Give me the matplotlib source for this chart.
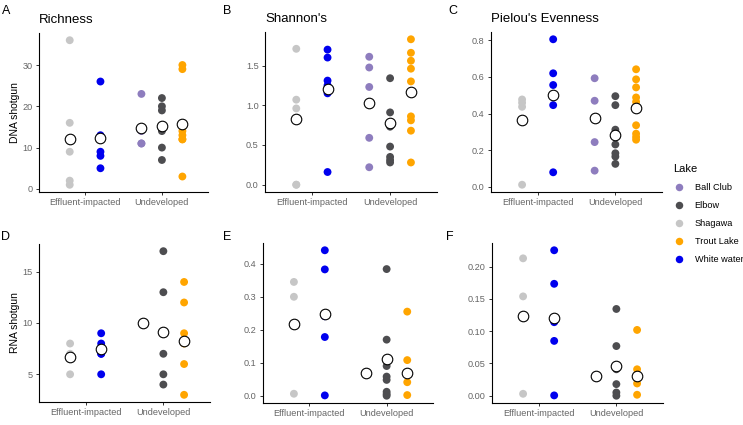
import matplotlib
matplotlib.use("Agg")
import matplotlib.pyplot as plt
from matplotlib.lines import Line2D
from matplotlib.ticker import FormatStrFormatter
import numpy as np

plt.rcParams['font.family'] = ['Liberation Sans', 'DejaVu Sans']

# ---------------- data ----------------
categories = ["Effluent-impacted", "Undeveloped"]
lakes = ["Ball Club", "Elbow", "Shagawa", "Trout Lake", "White water"]
lake_site = {"Ball Club": "Undeveloped", "Elbow": "Undeveloped", "Shagawa": "Effluent-impacted",
             "Trout Lake": "Undeveloped", "White water": "Effluent-impacted"}
lake_colors = {"Ball Club": "#8E7DBE", "Elbow": "#4D4D50", "Shagawa": "#C6C6C6",
               "Trout Lake": "#FFA500", "White water": "#0000EE"}

# DNA shotgun
richness_dna = {"Shagawa": [36, 16, 9, 2, 1],
                "White water": [26, 13, 12, 9, 8, 5],
                "Ball Club": [23, 14, 11, 11],
                "Elbow": [22, 20, 19, 14, 10, 7],
                "Trout Lake": [30, 29, 14, 13, 12, 12, 3]}
richness_dna_mean = {"Shagawa": 12.0, "White water": 12.3, "Ball Club": 14.8, "Elbow": 15.3, "Trout Lake": 15.7}

shannon_dna = {"Shagawa": [1.71, 1.07, 0.96, 0.0, 0.0],
               "White water": [1.70, 1.60, 1.31, 1.25, 1.15, 0.16],
               "Ball Club": [1.61, 1.475, 1.23, 0.59, 0.22],
               "Elbow": [1.34, 0.91, 0.73, 0.48, 0.35, 0.31, 0.28],
               "Trout Lake": [1.83, 1.66, 1.56, 1.46, 1.30, 0.86, 0.81, 0.68, 0.28]}
shannon_dna_mean = {"Shagawa": 0.832, "White water": 1.20, "Ball Club": 1.03, "Elbow": 0.777, "Trout Lake": 1.17}

pielou_dna = {"Shagawa": [0.477, 0.459, 0.437, 0.011],
              "White water": [0.806, 0.620, 0.556, 0.50, 0.446, 0.079],
              "Ball Club": [0.593, 0.470, 0.244, 0.088],
              "Elbow": [0.495, 0.446, 0.312, 0.29, 0.231, 0.183, 0.165, 0.125],
              "Trout Lake": [0.642, 0.587, 0.543, 0.488, 0.464, 0.43, 0.336, 0.29, 0.272, 0.257]}
pielou_dna_mean = {"Shagawa": 0.367, "White water": 0.503, "Ball Club": 0.374, "Elbow": 0.281, "Trout Lake": 0.433}

# RNA shotgun
richness_rna = {"Shagawa": [8, 7, 5],
                "White water": [9, 8, 7, 7, 5],
                "Ball Club": [10],
                "Elbow": [17, 13, 7, 5, 4],
                "Trout Lake": [14, 12, 9, 8, 6, 3]}
richness_rna_mean = {"Shagawa": 6.7, "White water": 7.45, "Ball Club": 10.0, "Elbow": 9.13, "Trout Lake": 8.23}

shannon_rna = {"Shagawa": [0.345, 0.300, 0.006],
               "White water": [0.441, 0.383, 0.241, 0.178, 0.001],
               "Ball Club": [0.070],
               "Elbow": [0.384, 0.170, 0.090, 0.058, 0.048, 0.012, 0.005, 0.0],
               "Trout Lake": [0.255, 0.108, 0.041, 0.002]}
shannon_rna_mean = {"Shagawa": 0.217, "White water": 0.249, "Ball Club": 0.070, "Elbow": 0.110, "Trout Lake": 0.070}

pielou_rna = {"Shagawa": [0.213, 0.154, 0.003],
              "White water": [0.2255, 0.1735, 0.114, 0.085, 0.0005],
              "Ball Club": [0.0306],
              "Elbow": [0.1345, 0.077, 0.041, 0.018, 0.005, 0.0],
              "Trout Lake": [0.102, 0.041, 0.019, 0.0015]}
pielou_rna_mean = {"Shagawa": 0.123, "White water": 0.120, "Ball Club": 0.0306, "Elbow": 0.046, "Trout Lake": 0.030}

panels = [
    ("A", "Richness", "DNA shotgun", richness_dna, richness_dna_mean, [0, 10, 20, 30], "%d"),
    ("B", "Shannon's", None, shannon_dna, shannon_dna_mean, [0, 0.5, 1.0, 1.5], "%.1f"),
    ("C", "Pielou's Evenness", None, pielou_dna, pielou_dna_mean, [0, 0.2, 0.4, 0.6, 0.8], "%.1f"),
    ("D", None, "RNA shotgun", richness_rna, richness_rna_mean, [5, 10, 15], "%d"),
    ("E", None, None, shannon_rna, shannon_rna_mean, [0, 0.1, 0.2, 0.3, 0.4], "%.1f"),
    ("F", None, None, pielou_rna, pielou_rna_mean, [0, 0.05, 0.10, 0.15, 0.20], "%.2f"),
]

# ---------------- layout ----------------
W, H = 743, 425
boxes = [(39, 208, 33, 192), (265, 437, 32, 192), (491, 662, 32, 192),
         (39, 210, 244, 402), (263, 433, 243, 403), (492, 663, 243, 403)]
letter_pos = [(2, 11), (223, 11), (448, 11), (1, 237), (223, 237), (446, 237)]

fig = plt.figure(figsize=(W / 100, H / 100), dpi=100)

dodge = 0.8
for (letter, title, ylabel, pts, means, yticks, fmt), (l, r, t, b), (lx, ly) in zip(panels, boxes, letter_pos):
    ax = fig.add_axes([l / W, 1 - b / H, (r - l) / W, (b - t) / H])
    allv = []
    for ci, cat in enumerate(categories):
        group = [lk for lk in lakes if lake_site[lk] == cat]
        n = len(group)
        for gi, lk in enumerate(group):
            xpos = ci + 1 - dodge / 2 + dodge / n * (gi + 0.5)
            vals = np.asarray(pts[lk], dtype=float)
            ax.scatter(np.full(len(vals), xpos), vals, s=32, color=lake_colors[lk],
                       edgecolors='none', zorder=2)
            ax.scatter([xpos], [means[lk]], s=58, facecolor='white', edgecolor='black',
                       linewidths=0.8, zorder=3)
            allv.extend(vals.tolist())
            allv.append(means[lk])
    lo, hi = min(allv), max(allv)
    pad = (hi - lo) * 0.05
    ax.set_ylim(lo - pad, hi + pad)
    ax.set_xlim(0.4, 2.6)
    ax.set_xticks([1, 2])
    ax.set_xticklabels(categories)
    ax.set_yticks(yticks)
    ax.yaxis.set_major_formatter(FormatStrFormatter(fmt))
    for s in ['top', 'right']:
        ax.spines[s].set_visible(False)
    for s in ['left', 'bottom']:
        ax.spines[s].set_linewidth(0.8)
        ax.spines[s].set_color('black')
    ax.tick_params(axis='both', length=2.5, width=0.7, color='#333333',
                   labelsize=6.6, labelcolor='#666666', pad=2)
    if title:
        ax.text(0.0, 1.0 + 13 / (b - t), title, transform=ax.transAxes, ha='left',
                va='center', fontsize=9.5, color='black')
    if ylabel:
        ax.set_ylabel(ylabel, fontsize=7.5, color='black', labelpad=2)
    fig.text(lx / W, 1 - ly / H, letter, ha='left', va='center', fontsize=9, color='black')

handles = [Line2D([], [], marker='o', linestyle='none', markersize=5.4,
                  markerfacecolor=lake_colors[lk], markeredgecolor='none') for lk in lakes]
leg = fig.legend(handles, lakes, loc='upper left', bbox_to_anchor=(667 / W, 1 - 158 / H),
                 frameon=False, fontsize=6.6, title='Lake', title_fontsize=8,
                 labelspacing=0.98, handletextpad=1.1, handlelength=1.2, borderpad=0.2)
leg._legend_box.align = 'left'

fig.savefig("out.png", dpi=100)
